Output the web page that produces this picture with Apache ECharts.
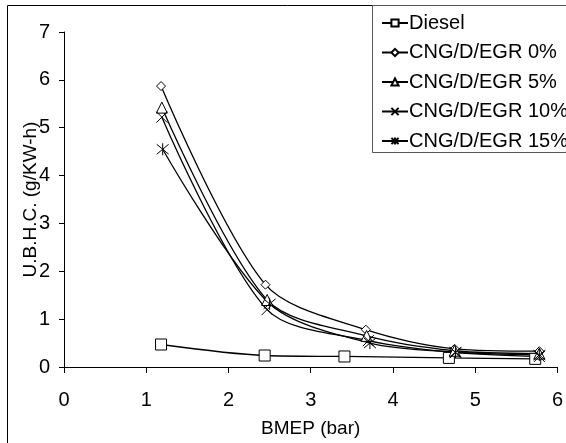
<!DOCTYPE html>
<html>
<head>
<meta charset="utf-8">
<script src="https://cdn.jsdelivr.net/npm/echarts@6/dist/echarts.min.js"></script>
<style>
  html, body { margin: 0; padding: 0; background: #fff; }
  #chart { width: 566px; height: 443px; }
</style>
</head>
<body>
<div id="chart"></div>
<script>
// data
var seriesNames = ['Diesel', 'CNG/D/EGR 0%', 'CNG/D/EGR 5%', 'CNG/D/EGR 10%', 'CNG/D/EGR 15%'];
var diesel = [[1.18, 0.47], [2.44, 0.24], [3.41, 0.22], [4.68, 0.19], [5.73, 0.17]];
var egr0 = [[1.18, 5.87], [2.45, 1.72], [3.67, 0.78], [4.75, 0.38], [5.78, 0.33]];
var egr5 = [[1.19, 5.42], [2.47, 1.40], [3.68, 0.65], [4.75, 0.34], [5.78, 0.28]];
var egr10 = [[1.19, 5.22], [2.47, 1.20], [3.70, 0.55], [4.76, 0.30], [5.78, 0.22]];
var egr15 = [[1.20, 4.55], [2.50, 1.32], [3.72, 0.50], [4.76, 0.31], [5.78, 0.25]];
var xTicks = [0, 1, 2, 3, 4, 5, 6];
var yTicks = [0, 1, 2, 3, 4, 5, 6, 7];

var symbols = ['rect', 'diamond', 'triangle',
  'path://M0,0L10,10M10,0L0,10',
  'path://M0,0L10,10M10,0L0,10M5,-1L5,11'];
var sizes = [11, 9, 11, 11, 12];
var allData = [diesel, egr0, egr5, egr10, egr15];

var font = 'Liberation Sans, Arial, sans-serif';

var myChart = echarts.init(document.getElementById('chart'));

var series = allData.map(function (d, i) {
  return {
    name: seriesNames[i],
    type: 'line',
    data: d,
    smooth: 0.3,
    symbol: symbols[i],
    symbolSize: sizes[i],
    showAllSymbol: true,
    lineStyle: { color: '#000', width: 1.3 },
    itemStyle: { color: '#fff', borderColor: '#000', borderWidth: 1 },
    emphasis: { disabled: true }
  };
});

var option = {
  backgroundColor: '#fff',
  animation: false,
  textStyle: { fontFamily: font },
  grid: { left: 64, right: 6, top: 32, bottom: 76 },
  graphic: [
    {
      type: 'rect', z: -10,
      shape: { x: 7.5, y: 5.5, width: 600, height: 500 },
      style: { fill: 'none', stroke: '#000', lineWidth: 1 }
    },
    {
      type: 'rect', z: 1,
      shape: { x: 372.5, y: 5.5, width: 220, height: 147 },
      style: { fill: '#fff', stroke: '#555', lineWidth: 1 }
    }
  ],
  legend: {
    orient: 'vertical',
    left: 376,
    top: 8,
    itemGap: 9.5,
    itemWidth: 26,
    itemHeight: 9,
    z: 10,
    data: seriesNames,
    textStyle: { fontFamily: font, fontSize: 20, lineHeight: 20, color: '#000', padding: [0, 0, 0, -4] }
  },
  xAxis: {
    type: 'value',
    min: xTicks[0],
    max: xTicks[xTicks.length - 1],
    interval: 1,
    name: 'BMEP (bar)',
    nameLocation: 'middle',
    nameGap: 52,
    nameMoveOverlap: false,
    nameTextStyle: { fontFamily: font, fontSize: 19, color: '#000' },
    axisLine: { onZero: false, lineStyle: { color: '#000', width: 1 } },
    axisTick: { length: 6, lineStyle: { color: '#000' } },
    axisLabel: { fontFamily: font, fontSize: 20, color: '#000', margin: 23 },
    splitLine: { show: false }
  },
  yAxis: {
    type: 'value',
    min: yTicks[0],
    max: yTicks[yTicks.length - 1],
    interval: 1,
    name: 'U.B.H.C. (g/KW-h)',
    nameLocation: 'middle',
    nameGap: 24,
    nameMoveOverlap: false,
    nameTextStyle: { fontFamily: font, fontSize: 19, color: '#000' },
    axisLine: { show: true, onZero: false, lineStyle: { color: '#000', width: 1 } },
    axisTick: { show: true, length: 5, lineStyle: { color: '#000' } },
    axisLabel: { fontFamily: font, fontSize: 20, color: '#000', margin: 14 },
    splitLine: { show: false }
  },
  series: series
};

myChart.setOption(option);
</script>
</body>
</html>
